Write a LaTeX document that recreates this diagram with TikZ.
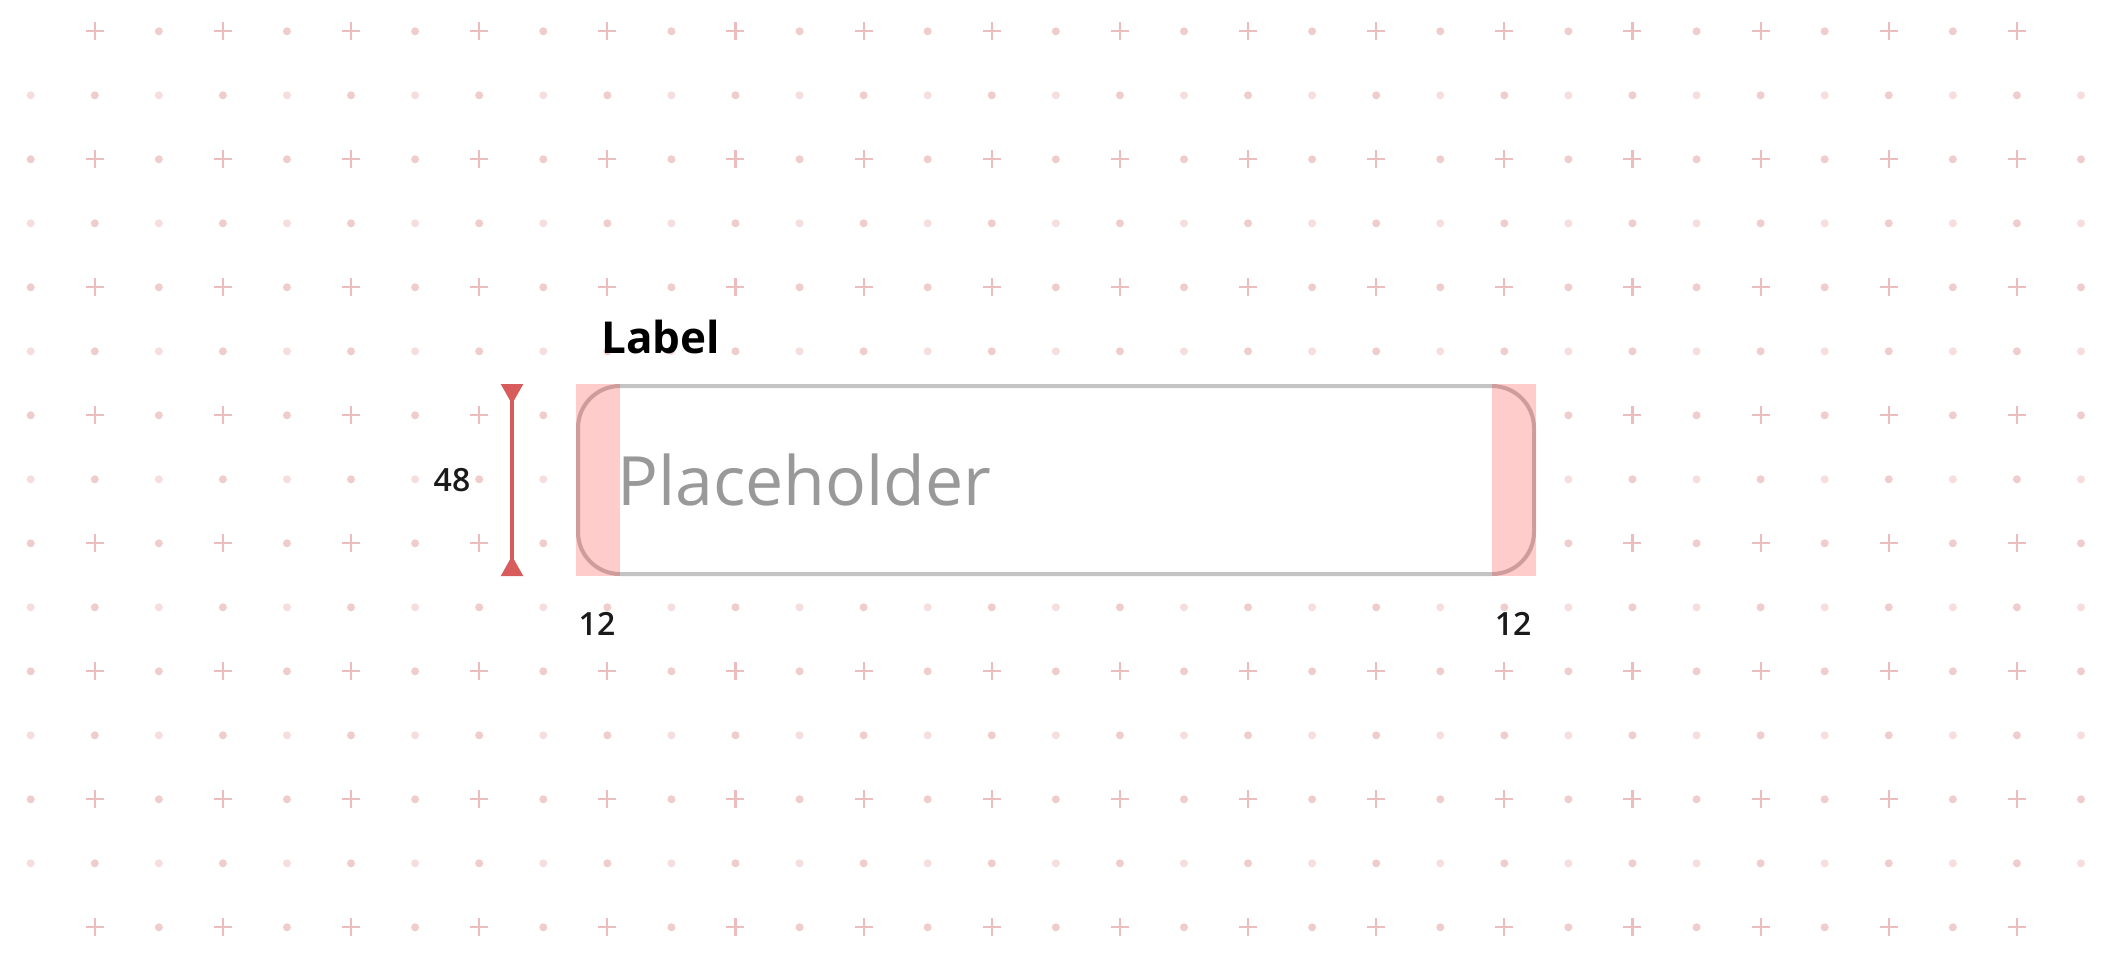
\documentclass[tikz,border=0pt]{standalone}
\usepackage{fontspec}
\setmainfont{Open Sans}
\newfontfamily\numfont{Open Sans}[UprightFont=* Semibold]
\definecolor{plusc}{HTML}{EDBDBD}
\definecolor{dotm}{HTML}{F0CCCC}
\definecolor{dotl}{HTML}{F6DEDE}
\definecolor{borderc}{HTML}{C4C4C4}
\definecolor{mred}{HTML}{D95C5C}
\definecolor{phc}{HTML}{999999}
\definecolor{numc}{HTML}{1A1A1A}
\tikzset{
  plusmark/.style={draw=plusc, line width=1.1pt},
  dotmid/.style={fill=dotm},
  dotlight/.style={fill=dotl},
  fieldbox/.style={draw=borderc, line width=2pt, fill=white, rounded corners=21pt,
    minimum width=478pt, minimum height=94pt, inner sep=0pt, outer sep=0pt},
  padzone/.style={fill=red, fill opacity=0.2},
  measureline/.style={draw=mred, line width=2pt},
  numlabel/.style={font=\numfont\fontsize{16}{18}\selectfont, text=numc, inner sep=0pt},
}
\begin{document}
\begin{tikzpicture}[x=0.5pt,y=-0.5pt]
\useasboundingbox (0,0) rectangle (2112,960);
\fill[white] (0,0) rectangle (2112,960);
% background grid
\foreach \j in {0,...,14}{
  \foreach \i in {0,...,32}{
    \pgfmathsetmacro\px{30.7+64.07*\i}
    \pgfmathsetmacro\py{31.3+64*\j}
    \pgfmathtruncatemacro\rj{mod(\j,2)}
    \pgfmathtruncatemacro\ri{mod(\i,2)}
    \pgfmathtruncatemacro\corner{((\i==0)||(\i==32))&&((\j==0)||(\j==14))}
    \ifnum\corner=0
      \ifnum\rj=0
        \ifnum\ri=1
          \draw[plusmark] (\px-9,\py) -- (\px+9,\py) (\px,\py-9) -- (\px,\py+9);
        \else
          \fill[dotmid] (\px,\py) circle (4);
        \fi
      \else
        \ifnum\ri=1
          \fill[dotmid] (\px,\py) circle (4);
        \else
          \fill[dotlight] (\px,\py) circle (4);
        \fi
      \fi
    \fi
  }
}
% input field
\node[fieldbox] (field) at (1056,480) {};
\fill[padzone] (576,384) rectangle (620,576);
\fill[padzone] (1492,384) rectangle (1536,576);
% texts
\node[anchor=base west, inner sep=0pt, font=\bfseries\fontsize{22}{26}\selectfont] (label) at (601,353) {Label};
\node[anchor=base west, inner sep=0pt, text=phc, font=\fontsize{34}{40}\selectfont] (ph) at (617,505) {Placeholder};
% height measure
\coordinate (mtop) at (512,384);
\coordinate (mbot) at (512,576);
\draw[measureline] (mtop) -- (mbot);
\fill[mred] (500.7,384) -- (523.3,384) -- (512,404) -- cycle;
\fill[mred] (500.7,576) -- (523.3,576) -- (512,556) -- cycle;
\node[numlabel] (h48) at (452,480) {48};
\node[numlabel] (padl) at (597,624) {12};
\node[numlabel] (padr) at (1513,624) {12};
\end{tikzpicture}
\end{document}
